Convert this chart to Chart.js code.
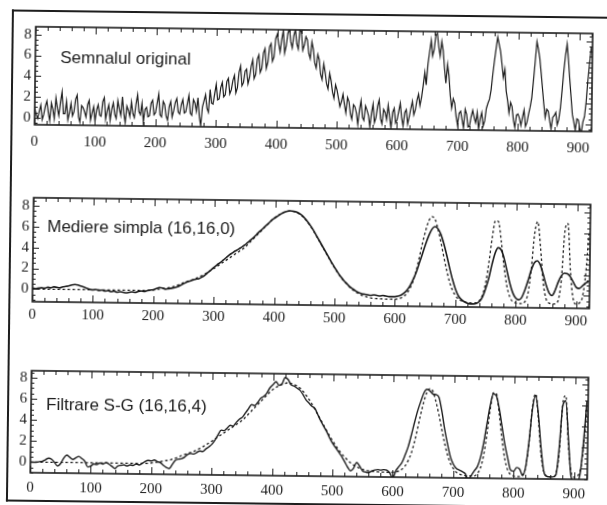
<!DOCTYPE html>
<html>
<head>
<meta charset="utf-8">
<script src="https://cdn.jsdelivr.net/npm/chart.js@4.4.1/dist/chart.umd.min.js"></script>
<style>
  body { margin: 0; background: #fff; overflow: hidden; }
  /* the scanned page is slightly tilted */
  #page { position: absolute; left: 0; top: 0; width: 607px; height: 505px;
          transform: rotate(0.7deg); transform-origin: 303px 252px; }
  #frame { position: absolute; left: 9px; top: 13px; width: 700px; height: 492px;
           box-sizing: border-box; border-left: 2px solid #1e1e1e;
           border-top: 2px solid #1e1e1e; border-bottom: 2px solid #1e1e1e; }
  canvas { position: absolute; left: 0; }
</style>
</head>
<body>
<div id="page">
  <div id="frame"></div>
  <canvas id="c1"></canvas>
  <canvas id="c2"></canvas>
  <canvas id="c3"></canvas>
</div>
<script>
// samples every 5 units along x, starting at 0
const xStep = 5;
const xTickValues = [0, 100, 200, 300, 400, 500, 600, 700, 800, 900];
const yTickValues = [0, 2, 4, 6, 8];
const panelTitles = ["Semnalul original", "Mediere simpla (16,16,0)", "Filtrare S-G (16,16,4)"];

// noisy input signal (top panel), at x = 0, 5, 10 ...
const noisy = [
  0.9,-0.1,1.2,0.3,1.6,-0.3,0.8,1.9,0.2,2.5,
  0.4,-0.2,1.4,0.6,2.2,-0.4,1.0,0.1,1.7,0.5,
  -0.3,1.3,0.2,2.0,0.7,-0.2,1.5,0.0,0.9,2.1,
  -0.4,0.8,1.6,0.1,2.3,0.4,-0.3,1.1,0.3,1.8,
  0.6,2.4,0.2,1.4,-0.1,1.7,0.8,2.0,0.5,1.9,
  0.7,2.3,0.4,1.6,2.1,-0.6,1.8,1.1,2.9,1.5,
  3.4,2.0,3.6,2.4,4.0,2.9,4.3,3.1,5.2,3.6,
  4.9,4.1,5.8,4.4,6.3,5.0,6.9,5.6,7.4,6.1,
  8.3,6.6,8.7,7.2,8.9,7.0,8.8,6.9,8.5,7.3,
  7.8,6.0,6.9,5.1,5.9,4.0,4.7,3.1,3.9,2.2,
  3.0,1.4,2.6,0.8,1.9,0.2,1.4,-0.3,2.0,0.1,
  1.1,-0.5,1.7,0.4,2.1,-0.2,0.9,1.6,-0.6,1.3,
  0.2,1.8,-0.4,1.2,0.5,2.0,1.2,2.7,2.4,4.8,
  5.6,7.9,7.0,8.6,6.4,6.9,3.8,4.5,1.4,1.9,
  -0.2,1.1,-0.5,0.8,-0.3,1.2,0.0,-0.6,1.0,0.2,
  1.9,3.2,6.0,8.3,6.9,4.4,3.1,1.0,1.6,-0.4,
  0.9,-0.2,1.3,0.1,1.6,4.2,7.9,6.3,3.4,0.6,
  1.2,-0.5,0.8,-0.1,1.5,5.1,7.7,4.3,0.9,-0.6,
  0.4,-0.9,0.7,4.2,7.4
];
// the same signal read in between, at x = 2.5, 7.5, 12.5 ...
const noisyMid = [
  0.3,0.6,-0.2,1.1,0.5,1.4,-0.1,0.9,1.5,0.4,
  1.6,0.5,0.2,1.8,0.1,1.2,0.6,1.3,-0.2,1.1,
  0.8,0.3,1.6,-0.1,1.3,0.9,0.4,1.7,0.3,0.5,
  1.2,0.2,0.5,1.4,0.7,1.5,0.9,0.2,1.5,0.4,
  1.5,0.4,1.7,0.3,1.2,0.2,1.6,0.7,1.4,0.6,
  1.5,0.6,1.9,0.8,0.3,1.2,2.4,0.7,1.6,2.5,
  1.9,3.1,2.2,3.7,2.5,3.8,2.6,4.6,3.3,4.7,
  3.5,5.2,4.0,5.9,4.6,6.5,5.0,7.1,5.7,7.9,
  7.4,7.8,6.5,8.4,7.6,8.2,7.4,8.9,6.8,8.1,
  6.5,7.6,5.6,6.4,4.5,5.5,3.6,4.6,2.8,3.5,
  2.2,1.9,1.6,2.3,0.7,1.6,0.8,1.1,0.4,1.5,
  0.6,0.8,-0.1,1.5,0.3,1.2,0.2,0.5,0.9,-0.1,
  1.0,0.4,0.9,-0.2,1.3,0.7,2.1,1.6,3.5,3.6,
  6.8,6.4,8.4,7.3,7.8,5.2,5.6,2.6,2.3,0.6,
  0.9,0.3,1.3,-0.4,0.6,0.5,1.0,0.4,-0.3,1.4,
  2.3,4.7,7.2,7.6,5.7,5.2,2.2,2.0,0.3,0.8,
  0.5,0.6,-0.3,0.9,2.5,6.0,7.2,4.9,1.9,1.4,
  0.3,0.6,1.1,0.4,3.2,6.6,6.2,2.6,0.2,0.5,
  -0.4,0.2,2.1,5.9
];

// underlying signal (dashed, panels 2 and 3)
const trueSignal = [
  0,0,0,0,0,0,0,0,0,0,
  0,0,0,0,0,0,0,0,0,0,
  0,0,0,0,0,0,0,0,0,0,
  0,0,0,0,0,0,0,0,0,0,
  0.05,0.1,0.15,0.2,0.25,0.3,0.35,0.45,0.55,0.65,
  0.8,0.9,1.0,1.1,1.2,1.35,1.5,1.65,1.85,2.0,
  2.2,2.4,2.6,2.8,3.0,3.2,3.4,3.6,3.8,4.0,
  4.2,4.5,4.8,5.1,5.4,5.7,6.0,6.3,6.6,6.9,
  7.15,7.35,7.5,7.65,7.75,7.8,7.75,7.65,7.5,7.3,
  7.0,6.65,6.25,5.8,5.3,4.8,4.3,3.8,3.3,2.8,
  2.35,1.9,1.5,1.15,0.85,0.55,0.3,0.1,-0.05,-0.2,
  -0.3,-0.38,-0.44,-0.48,-0.5,-0.52,-0.53,-0.54,-0.55,-0.55,
  -0.55,-0.5,-0.42,-0.25,0.05,0.55,1.25,2.3,3.6,4.95,
  6.15,7.05,7.4,7.15,6.2,5.0,3.6,2.3,1.2,0.4,
  -0.1,-0.45,-0.62,-0.72,-0.77,-0.8,-0.8,-0.79,-0.56,-0.03,
  1.17,3.15,5.5,7.1,7.0,5.1,2.71,0.87,-0.18,-0.62,
  -0.75,-0.8,-0.8,-0.64,0.14,2.45,5.85,7.05,4.6,1.31,
  -0.31,-0.73,-0.8,-0.8,-0.5,1.45,6.1,6.9,2.3,-0.31,
  -0.8,-0.7,-0.2,1.9,6.0
];

// moving average result (panel 2, solid)
const meanSmoothed = [
  0.1,0.05,0.1,0.15,0.1,0.2,0.15,0.25,0.2,0.15,
  0.25,0.3,0.35,0.45,0.5,0.45,0.35,0.25,0.15,0.05,
  0.0,0.05,-0.05,0.0,-0.1,-0.05,-0.15,-0.1,-0.2,-0.15,
  -0.2,-0.25,-0.2,-0.15,-0.2,-0.1,-0.05,-0.1,0.0,0.05,
  0.1,0.2,0.3,0.25,0.15,0.2,0.25,0.3,0.4,0.55,
  0.7,0.85,0.95,1.05,1.15,1.2,1.35,1.55,1.8,2.05,
  2.3,2.55,2.75,3.0,3.25,3.5,3.7,3.9,4.05,4.25,
  4.45,4.7,4.95,5.2,5.5,5.8,6.05,6.35,6.6,6.9,
  7.1,7.3,7.5,7.65,7.75,7.8,7.75,7.7,7.55,7.35,
  7.05,6.7,6.3,5.85,5.35,4.85,4.35,3.85,3.35,2.85,
  2.4,1.95,1.55,1.2,0.9,0.6,0.4,0.2,0.05,-0.05,
  -0.1,-0.15,-0.2,-0.15,-0.2,-0.25,-0.2,-0.25,-0.3,-0.3,
  -0.3,-0.25,-0.15,0.05,0.35,0.8,1.4,2.1,3.0,3.9,
  4.8,5.6,6.2,6.45,6.25,5.7,4.8,3.7,2.5,1.4,
  0.5,-0.15,-0.5,-0.7,-0.85,-0.9,-0.9,-0.85,-0.65,-0.2,
  0.6,1.6,2.9,4.0,4.5,4.3,3.5,2.3,1.1,0.2,
  -0.3,-0.45,-0.2,0.5,1.4,2.4,3.1,3.3,2.9,2.0,
  1.0,0.25,0.0,0.5,1.3,1.9,2.15,2.1,1.8,1.3,
  0.8,0.7,0.95,1.2,1.35
];

// Savitzky-Golay result (panel 3, solid)
const sgSmoothed = [
  0.0,0.0,0.0,0.05,0.1,0.25,0.4,0.3,0.0,-0.35,
  -0.1,0.4,0.7,0.5,0.3,0.45,0.6,0.4,0.15,-0.4,
  -0.3,-0.1,-0.15,0.0,-0.1,0.05,-0.1,-0.3,-0.5,-0.25,
  -0.2,-0.15,-0.25,-0.15,-0.2,-0.05,-0.15,0.0,0.2,0.3,
  0.25,0.35,0.2,0.1,-0.15,-0.35,-0.45,-0.05,0.35,0.45,
  0.5,0.65,0.9,1.0,0.95,1.1,1.25,1.2,1.45,1.65,
  1.9,2.3,2.8,3.25,3.2,3.45,3.7,3.65,4.0,4.3,
  4.5,4.9,5.3,5.7,5.6,5.9,6.3,6.5,6.8,7.3,
  7.6,7.9,7.55,7.7,8.3,8.1,7.6,7.5,7.3,7.1,
  6.7,6.2,5.9,5.6,5.4,4.8,4.2,3.7,3.2,2.6,
  2.1,1.7,1.3,0.9,0.4,-0.1,-0.45,-0.2,0.35,0.0,
  -0.45,-0.55,-0.6,-0.45,-0.35,-0.3,-0.35,-0.3,-0.35,-0.6,
  -1.1,-0.4,0.0,0.4,1.1,1.9,3.0,4.2,5.3,6.2,
  7.0,7.35,7.2,6.9,6.85,6.6,5.3,3.6,2.2,1.0,
  0.3,-0.1,-0.25,-0.4,-0.6,-1.15,-0.75,-0.3,0.1,1.0,
  2.4,4.2,5.9,7.0,6.8,5.6,3.9,2.2,0.9,-0.2,
  -0.3,0.05,-0.1,-0.7,0.2,2.6,5.6,6.9,5.0,1.9,
  -0.3,-0.75,-0.8,-0.8,-0.6,2.0,5.9,6.4,2.9,-0.7,
  -1.2,-1.2,-0.5,2.5,6.4
];

const INK = '#1c1c1c';
const toPts = arr => arr.map((v, i) => ({ x: i * xStep, y: v }));
// weave the two noisy readings together in x order
const noisyPts = noisy.flatMap((v, i) => i < noisyMid.length
  ? [{ x: i * xStep, y: v }, { x: i * xStep + xStep / 2, y: noisyMid[i] }]
  : [{ x: i * xStep, y: v }]);

// inward tick marks on all four sides plus the box
const frameTicks = {
  id: 'frameTicks',
  afterDatasetsDraw(chart) {
    const { ctx, chartArea: a, scales: { x, y } } = chart;
    ctx.save();
    ctx.strokeStyle = INK;
    ctx.lineWidth = 1.6;
    ctx.strokeRect(a.left, a.top, a.right - a.left, a.bottom - a.top);
    ctx.lineWidth = 1;
    ctx.beginPath();
    for (let v = 0; v <= x.max; v += 20) {
      const px = Math.round(x.getPixelForValue(v)) + 0.5;
      const len = v % 100 === 0 ? 7 : 4;
      ctx.moveTo(px, a.bottom); ctx.lineTo(px, a.bottom - len);
      ctx.moveTo(px, a.top); ctx.lineTo(px, a.top + len);
    }
    for (let v = Math.ceil(y.min * 2) / 2; v <= y.max; v += 0.5) {
      const py = Math.round(y.getPixelForValue(v)) + 0.5;
      const len = v % 2 === 0 ? 6 : 3;
      ctx.moveTo(a.left, py); ctx.lineTo(a.left + len, py);
      ctx.moveTo(a.right, py); ctx.lineTo(a.right - len, py);
    }
    ctx.stroke();
    ctx.restore();
  }
};

const caption = {
  id: 'caption',
  afterDraw(chart, args, opts) {
    const { ctx, chartArea: a, scales: { y } } = chart;
    ctx.save();
    ctx.fillStyle = INK;
    ctx.font = '17px "Liberation Sans", Arial, sans-serif';
    ctx.textBaseline = 'middle';
    ctx.fillText(opts.text, a.left + opts.dx, y.getPixelForValue(opts.yValue));
    ctx.restore();
  }
};

const panels = [
  { id: 'c1', top: 27, bottom: 128, yMin: -0.7, yMax: 8.75, labelPad: 8, capDx: 25, capY: 5.75,
    sets: [{ pts: noisyPts, width: 1.2, dash: [] }] },
  { id: 'c2', top: 198, bottom: 305, yMin: -1.2, yMax: 8.75, labelPad: 4, capDx: 14, capY: 5.95,
    sets: [{ pts: toPts(trueSignal), width: 1.3, dash: [2.5, 2.5], smooth: true },
           { pts: toPts(meanSmoothed), width: 1.6, dash: [], smooth: true }] },
  { id: 'c3', top: 371, bottom: 476, yMin: -1.0, yMax: 8.65, labelPad: 6, capDx: 15, capY: 5.4,
    sets: [{ pts: toPts(trueSignal), width: 1.3, dash: [2.5, 2.5], smooth: true },
           { pts: toPts(sgSmoothed), width: 1.4, dash: [], smooth: true }] }
];

const tickFont = { family: '"Liberation Serif", "Times New Roman", serif', size: 15 };

panels.forEach((p, k) => {
  const cv = document.getElementById(p.id);
  cv.width = 607;
  cv.height = p.bottom - p.top + 10 + 30;
  cv.style.top = (p.top - 10) + 'px';

  new Chart(cv, {
    type: 'line',
    data: {
      datasets: p.sets.map(s => ({
        data: s.pts,
        borderColor: INK,
        borderWidth: s.width,
        borderDash: s.dash,
        pointRadius: 0,
        fill: false,
        clip: 0,
        cubicInterpolationMode: s.smooth ? 'monotone' : 'default',
        tension: 0
      }))
    },
    options: {
      responsive: false,
      animation: false,
      events: [],
      layout: { padding: { top: 10, right: 17, left: 0, bottom: 0 } },
      plugins: {
        legend: { display: false },
        tooltip: { enabled: false },
        caption: { text: panelTitles[k], dx: p.capDx, yValue: p.capY }
      },
      scales: {
        x: {
          type: 'linear', min: 0, max: 922,
          grid: { display: false, drawTicks: false },
          border: { display: false },
          afterFit: s => { s.height = 30; },
          afterBuildTicks: s => { s.ticks = xTickValues.map(v => ({ value: v })); },
          ticks: { font: tickFont, color: INK, padding: p.labelPad, maxRotation: 0, autoSkip: false }
        },
        y: {
          type: 'linear', min: p.yMin, max: p.yMax,
          grid: { display: false, drawTicks: false },
          border: { display: false },
          afterFit: s => { s.width = 33; },
          afterBuildTicks: s => { s.ticks = yTickValues.map(v => ({ value: v })); },
          ticks: { font: tickFont, color: INK, padding: 4, autoSkip: false }
        }
      }
    },
    plugins: [frameTicks, caption]
  });
});
</script>
</body>
</html>
